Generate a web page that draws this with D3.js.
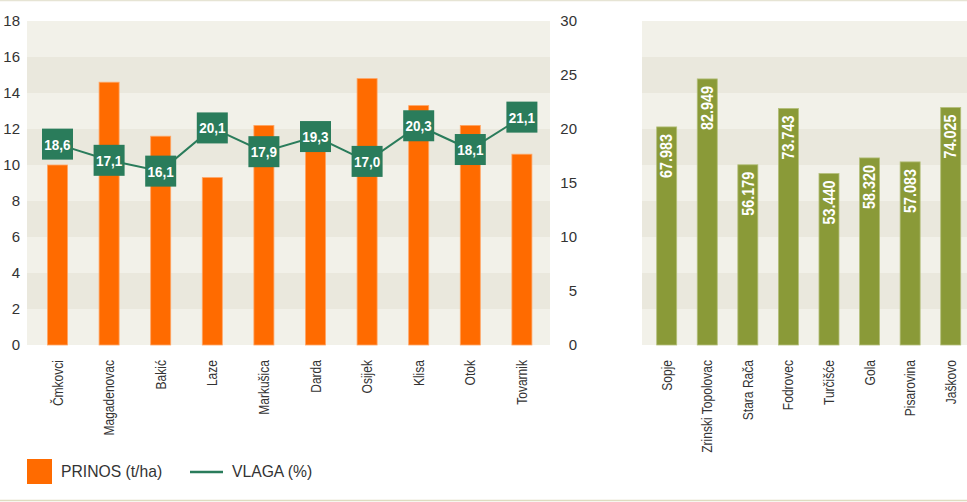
<!DOCTYPE html>
<html>
<head>
<meta charset="utf-8">
<script src="https://cdn.jsdelivr.net/npm/d3@7"></script>
<style>
  html, body { margin: 0; padding: 0; background: #ffffff; }
  svg { display: block; font-family: "Liberation Sans", Arial, Helvetica, sans-serif; }
</style>
</head>
<body>
<svg id="chart" width="967" height="502"></svg>
<script>
// ---- Data ----
const categoriesLeft = ["Čmkovci", "Magadenovac", "Bakić", "Laze", "Markušica", "Darda", "Osijek", "Klisa", "Otok", "Tovarnik"];
const prinos = [10.0, 14.6, 11.6, 9.3, 12.2, 11.2, 14.8, 13.3, 12.2, 10.6];
const vlaga = [18.6, 17.1, 16.1, 20.1, 17.9, 19.3, 17.0, 20.3, 18.1, 21.1];
const vlagaLabels = ["18,6", "17,1", "16,1", "20,1", "17,9", "19,3", "17,0", "20,3", "18,1", "21,1"];
const leftTicks = [0, 2, 4, 6, 8, 10, 12, 14, 16, 18];
const rightTicks = [0, 5, 10, 15, 20, 25, 30];
const categoriesRight = ["Sopje", "Zrinski Topolovac", "Stara Rača", "Fodrovec", "Turčišće", "Gola", "Pisarovina", "Jaškovo"];
const rightValues = [67.983, 82.949, 56.179, 73.743, 53.440, 58.320, 57.083, 74.025];
const rightLabels = ["67.983", "82.949", "56.179", "73.743", "53.440", "58.320", "57.083", "74.025"];
const legendLabels = ["PRINOS (t/ha)", "VLAGA (%)"];

// ---- Layout ----
const svg = d3.select("#chart");
const plotTop = 21, plotBottom = 345;
const C = { orange: "#ff6b00", green: "#2a7c5b", olive: "#8a9a38", light: "#f2f1e9", dark: "#eae8dd", text: "#333333" };

const yL = d3.scaleLinear().domain([0, 18]).range([plotBottom, plotTop]);
const yR = d3.scaleLinear().domain([0, 30]).range([plotBottom, plotTop]);
const yG = d3.scaleLinear().domain([0, 101]).range([plotBottom, plotTop]);

const xL = d3.scaleBand().domain(categoriesLeft).range([31.7, 547.7]).paddingInner(0.612).paddingOuter(0.306);
const xR = d3.scaleBand().domain(categoriesRight).range([646.4, 971]).paddingInner(0.507).paddingOuter(0.2535);

// frame lines
svg.append("line").attr("x1", 0).attr("x2", 967).attr("y1", 0.5).attr("y2", 0.5).attr("stroke", "#e6e4d4").attr("stroke-width", 1.5);
svg.append("line").attr("x1", 0).attr("x2", 967).attr("y1", 500.5).attr("y2", 500.5).attr("stroke", "#dedcc0").attr("stroke-width", 1.5);

// background bands
function bands(x0, x1) {
  const g = svg.append("g");
  for (let i = 0; i < leftTicks.length - 1; i++) {
    const a = leftTicks[i], b = leftTicks[i + 1];
    g.append("rect").attr("x", x0).attr("width", x1 - x0)
      .attr("y", yL(b)).attr("height", yL(a) - yL(b))
      .attr("fill", i % 2 === 0 ? C.light : C.dark);
  }
}
bands(27, 550);
bands(642, 967);

// left axis labels
const axL = svg.append("g").attr("transform", "translate(20,0)")
  .call(d3.axisLeft(yL).tickValues(leftTicks).tickSize(0).tickPadding(0));
axL.select(".domain").remove();
axL.selectAll("text").attr("font-size", 15).attr("fill", C.text).attr("font-family", "Liberation Sans, Arial, sans-serif");

// right axis labels
const axR = svg.append("g").attr("transform", "translate(577,0)")
  .call(d3.axisLeft(yR).tickValues(rightTicks).tickSize(0).tickPadding(0));
axR.select(".domain").remove();
axR.selectAll("text").attr("font-size", 15).attr("fill", C.text).attr("font-family", "Liberation Sans, Arial, sans-serif");

// orange bars
svg.append("g").selectAll("rect").data(prinos).join("rect")
  .attr("x", (d, i) => xL(categoriesLeft[i]))
  .attr("width", xL.bandwidth())
  .attr("y", d => yL(d))
  .attr("height", d => yL(0) - yL(d))
  .attr("fill", C.orange)
  .attr("stroke", "#ffa565").attr("stroke-width", 0.8);

// line
const pts = vlaga.map((d, i) => [xL(categoriesLeft[i]) + xL.bandwidth() / 2, yR(d)]);
svg.append("path").attr("d", d3.line()(pts)).attr("fill", "none").attr("stroke", C.green).attr("stroke-width", 2);

const boxes = svg.append("g").selectAll("g").data(vlaga).join("g")
  .attr("transform", (d, i) => `translate(${pts[i][0]},${pts[i][1]})`);
boxes.append("rect").attr("x", -15.5).attr("y", -15.5).attr("width", 31).attr("height", 31).attr("fill", C.green);
boxes.append("text").text((d, i) => vlagaLabels[i])
  .attr("text-anchor", "middle").attr("dy", "0.36em")
  .attr("fill", "#ffffff").attr("font-weight", "bold").attr("font-size", 15)
  .attr("transform", "scale(0.9,1)");

// left category labels
svg.append("g").selectAll("text").data(categoriesLeft).join("text")
  .attr("transform", d => `translate(${xL(d) + xL.bandwidth() / 2},360) rotate(-90) scale(0.86,1)`)
  .attr("text-anchor", "end").attr("dy", "0.36em")
  .attr("font-size", 14).attr("fill", C.text)
  .text(d => d);

// right olive bars
svg.append("g").selectAll("rect").data(rightValues).join("rect")
  .attr("x", (d, i) => xR(categoriesRight[i]))
  .attr("width", xR.bandwidth())
  .attr("y", d => yG(d))
  .attr("height", d => yG(0) - yG(d))
  .attr("fill", C.olive)
  .attr("stroke", "#b3bf7a").attr("stroke-width", 0.8);

svg.append("g").selectAll("text").data(rightValues).join("text")
  .attr("transform", (d, i) => `translate(${xR(categoriesRight[i]) + xR.bandwidth() / 2},${yG(d) + 7}) rotate(-90) scale(0.9,1)`)
  .attr("text-anchor", "end").attr("dy", "0.36em")
  .attr("fill", "#ffffff").attr("font-weight", "bold").attr("font-size", 16)
  .text((d, i) => rightLabels[i]);

// right category labels
svg.append("g").selectAll("text").data(categoriesRight).join("text")
  .attr("transform", d => `translate(${xR(d) + xR.bandwidth() / 2},360) rotate(-90) scale(0.86,1)`)
  .attr("text-anchor", "end").attr("dy", "0.36em")
  .attr("font-size", 14).attr("fill", C.text)
  .text(d => d);

// legend
const lg = svg.append("g");
lg.append("rect").attr("x", 27).attr("y", 459).attr("width", 25).attr("height", 25).attr("fill", C.orange);
lg.append("text").attr("x", 61).attr("y", 477).attr("font-size", 15.7).attr("fill", C.text).text(legendLabels[0]);
lg.append("line").attr("x1", 190).attr("x2", 223).attr("y1", 472).attr("y2", 472).attr("stroke", C.green).attr("stroke-width", 2.5);
lg.append("text").attr("x", 232).attr("y", 477).attr("font-size", 15.7).attr("fill", C.text).text(legendLabels[1]);
</script>
</body>
</html>
